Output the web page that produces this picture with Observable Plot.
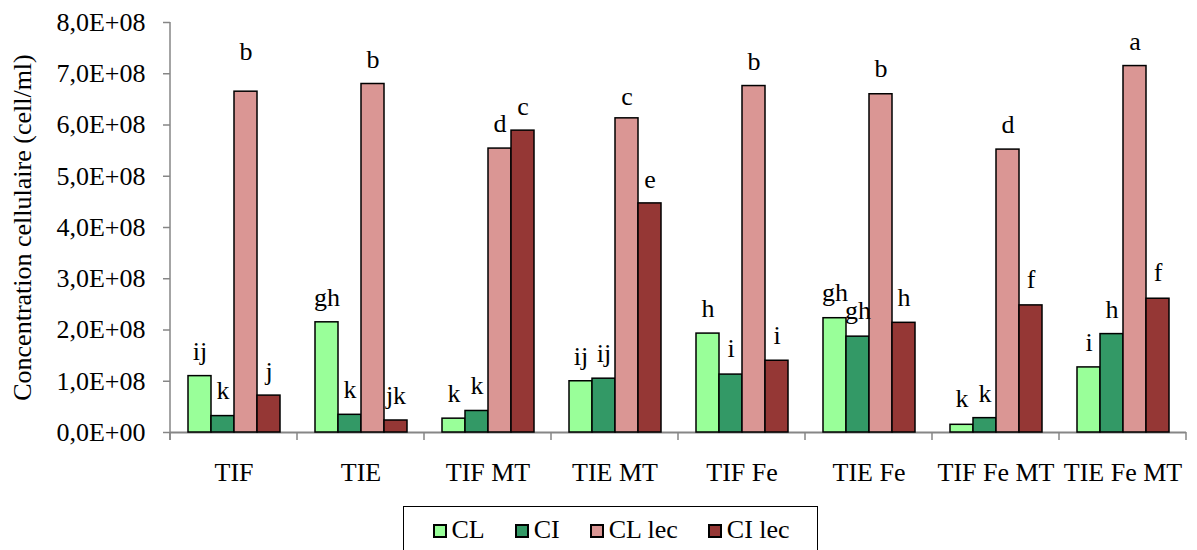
<!DOCTYPE html>
<html>
<head>
<meta charset="utf-8">
<script src="https://cdn.jsdelivr.net/npm/d3@7"></script>
<script src="https://cdn.jsdelivr.net/npm/@observablehq/plot@0.6"></script>
<style>
  body { margin: 0; background: #fff; font-family: "Liberation Serif", "Times New Roman", serif; }
  #chart { position: absolute; left: 0; top: 0; }
  #legend {
    position: absolute; left: 403px; top: 506px; width: 415px; height: 70px;
    border: 1.5px solid #000; box-sizing: border-box;
    display: flex; align-items: flex-start; justify-content: flex-start;
    padding-left: 28.5px; padding-top: 8px; font-size: 26px; line-height: 30px; color: #000;
  }
  .item { display: flex; align-items: center; margin-right: 30px; white-space: nowrap; }
  .sw { width: 10px; height: 10px; border: 2px solid #000; margin-right: 5px; margin-top: 2px; display: inline-block; }
</style>
</head>
<body>
<div id="chart"></div>
<div id="legend"></div>
<script>
// ---- data ----
const categories = ["TIF", "TIE", "TIF MT", "TIE MT", "TIF Fe", "TIE Fe", "TIF Fe MT", "TIE Fe MT"];
const series = ["CL", "CI", "CL lec", "CI lec"];
const colors = ["#99FF99", "#339966", "#DA9694", "#953735"];

const CL     = [1.10e8, 2.15e8, 0.27e8, 1.00e8, 1.93e8, 2.23e8, 0.15e8, 1.27e8];
const CI     = [0.32e8, 0.345e8, 0.42e8, 1.05e8, 1.13e8, 1.87e8, 0.28e8, 1.92e8];
const CLlec  = [6.65e8, 6.80e8, 5.54e8, 6.13e8, 6.76e8, 6.60e8, 5.52e8, 7.15e8];
const CIlec  = [0.72e8, 0.234e8, 5.89e8, 4.47e8, 1.40e8, 2.14e8, 2.48e8, 2.61e8];

// significance letters
const lettersCL    = ["ij", "gh", "k", "ij", "h", "gh", "k", "i"];
const lettersCI    = ["k", "k", "k", "ij", "i", "gh", "k", "h"];
const lettersCLlec = ["b", "b", "d", "c", "b", "b", "d", "a"];
const lettersCIlec = ["j", "jk", "c", "e", "i", "h", "f", "f"];

// value at which each letter sits (upper error bound, estimated)
const upperCL    = [1.57e8, 2.64e8, 0.75e8, 1.47e8, 2.41e8, 2.72e8, 0.66e8, 1.76e8];
const upperCI    = [0.82e8, 0.83e8, 0.92e8, 1.54e8, 1.63e8, 2.37e8, 0.75e8, 2.39e8];
const upperCLlec = [7.43e8, 7.27e8, 6.02e8, 6.56e8, 7.24e8, 7.10e8, 6.01e8, 7.62e8];
const upperCIlec = [1.18e8, 0.72e8, 6.36e8, 4.94e8, 1.89e8, 2.63e8, 2.98e8, 3.11e8];

const yTicks = [0, 1e8, 2e8, 3e8, 4e8, 5e8, 6e8, 7e8, 8e8];
const yTickLabels = ["0,0E+00", "1,0E+08", "2,0E+08", "3,0E+08", "4,0E+08", "5,0E+08", "6,0E+08", "7,0E+08", "8,0E+08"];
const yTitle = "Concentration cellulaire (cell/ml)";

// ---- build table ----
const valueSets = [CL, CI, CLlec, CIlec];
const letterSets = [lettersCL, lettersCI, lettersCLlec, lettersCIlec];
const upperSets = [upperCL, upperCI, upperCLlec, upperCIlec];
const rows = [];
categories.forEach((cat, i) => {
  series.forEach((s, j) => {
    rows.push({cat, series: s, value: valueSets[j][i], letter: letterSets[j][i], upper: upperSets[j][i]});
  });
});

const serif = "'Liberation Serif', 'Times New Roman', serif";
const gray = "#868686";
const plot = Plot.plot({
  width: 1197,
  height: 500,
  marginLeft: 170,
  marginRight: 11,
  marginTop: 22,
  marginBottom: 68,
  style: {fontFamily: serif, fontSize: "26px", background: "white", color: "black", overflow: "visible"},
  fx: {domain: categories, padding: 0, label: null},
  x: {domain: series, paddingInner: 0, paddingOuter: 0.73, axis: null},
  y: {domain: [0, 8e8]},
  color: {domain: series, range: colors},
  marks: [
    Plot.axisY(yTicks, {
      tickFormat: (d) => yTickLabels[yTicks.indexOf(d)],
      tickSize: 7, tickPadding: 18, stroke: gray, fill: "black", strokeWidth: 1.5,
      fontSize: 26, fontFamily: serif,
      label: yTitle, labelAnchor: "center", labelOffset: 158, labelArrow: "none"
    }),
    Plot.axisFx({anchor: "bottom", tickSize: 0, tickPadding: 30, label: null, fontSize: 26, fontFamily: serif, fill: "black"}),
    Plot.ruleY([0], {stroke: gray, strokeWidth: 2}),
    Plot.barY(rows, {fx: "cat", x: "series", y: "value", fill: "series", stroke: "black", strokeWidth: 1.5}),
    Plot.text(rows, {fx: "cat", x: "series", y: "upper", text: "letter", fontSize: 26, fontFamily: serif, fill: "black"})
  ]
});
document.getElementById("chart").appendChild(plot);

// Excel-style axis line and category boundary ticks, from Plot's own scales
const fx = plot.scale("fx");
const ys = plot.scale("y");
const y0 = ys.apply(0), yTop = ys.apply(8e8);
const g = d3.select(plot).append("g").attr("stroke", gray).attr("stroke-width", 1.5);
const x0 = fx.apply(categories[0]);
g.append("line").attr("x1", x0).attr("x2", x0).attr("y1", yTop).attr("y2", y0 + 8);
const bounds = categories.map(c => fx.apply(c)).concat([fx.apply(categories[categories.length - 1]) + fx.bandwidth]);
bounds.forEach(b => {
  g.append("line").attr("x1", b).attr("x2", b).attr("y1", y0).attr("y2", y0 + 8);
});

// legend
const legend = d3.select("#legend");
series.forEach((s, j) => {
  const it = legend.append("div").attr("class", "item");
  it.append("span").attr("class", "sw").style("background", colors[j]);
  it.append("span").text(s);
});
</script>
</body>
</html>
